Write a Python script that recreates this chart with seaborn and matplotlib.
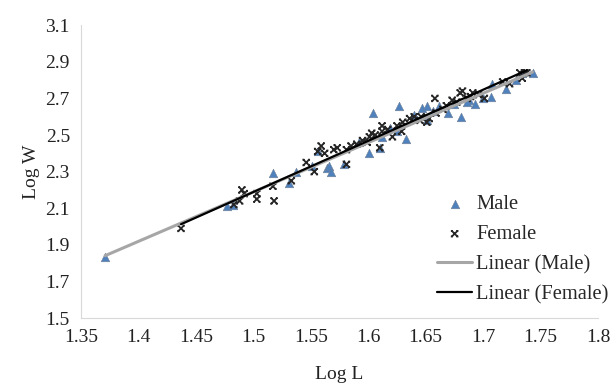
import numpy as np
import pandas as pd
import matplotlib
matplotlib.use("Agg")
import matplotlib.pyplot as plt
from matplotlib.path import Path
import seaborn as sns

# Log L / Log W
male_logl = [1.371, 1.477, 1.482, 1.517, 1.531, 1.537, 1.551, 1.556, 1.564,
             1.566, 1.568, 1.579, 1.601, 1.604, 1.610, 1.612, 1.619, 1.625,
             1.627, 1.633, 1.647, 1.651, 1.651, 1.656, 1.669, 1.675, 1.681,
             1.688, 1.693, 1.700, 1.707, 1.708, 1.720, 1.729, 1.734, 1.743,
             1.592, 1.640, 1.662, 1.686]
male_logw = [1.835, 2.110, 2.120, 2.290, 2.236, 2.300, 2.330, 2.410, 2.320,
             2.330, 2.300, 2.340, 2.400, 2.620, 2.430, 2.490, 2.540, 2.520,
             2.660, 2.480, 2.650, 2.660, 2.580, 2.630, 2.620, 2.670, 2.600,
             2.690, 2.670, 2.700, 2.710, 2.780, 2.750, 2.800, 2.840, 2.840,
             2.460, 2.610, 2.660, 2.680]

female_logl = [1.437, 1.483, 1.488, 1.490, 1.492, 1.503, 1.503, 1.517, 1.518,
               1.533, 1.546, 1.553, 1.556, 1.559, 1.562, 1.573, 1.581, 1.581,
               1.590, 1.595, 1.599, 1.601, 1.603, 1.610, 1.612, 1.612, 1.625,
               1.629, 1.630, 1.636, 1.640, 1.645, 1.646, 1.651, 1.653, 1.658,
               1.659, 1.665, 1.673, 1.680, 1.682, 1.686, 1.691, 1.701, 1.717,
               1.723, 1.732, 1.734, 1.736, 1.738, 1.606, 1.617, 1.621, 1.668,
               1.677, 1.689, 1.696, 1.570, 1.585]
female_logw = [1.990, 2.120, 2.140, 2.200, 2.180, 2.180, 2.150, 2.220, 2.140,
               2.250, 2.350, 2.300, 2.410, 2.440, 2.400, 2.430, 2.420, 2.340,
               2.450, 2.470, 2.460, 2.490, 2.510, 2.430, 2.550, 2.520, 2.550,
               2.520, 2.570, 2.590, 2.600, 2.580, 2.600, 2.570, 2.590, 2.700,
               2.620, 2.640, 2.690, 2.730, 2.740, 2.700, 2.730, 2.700, 2.790,
               2.780, 2.840, 2.810, 2.840, 2.840, 2.500, 2.530, 2.490, 2.660,
               2.680, 2.710, 2.720, 2.420, 2.440]

male = pd.DataFrame({"Log L": male_logl, "Log W": male_logw})
female = pd.DataFrame({"Log L": female_logl, "Log W": female_logw})

sns.set_style("white")
plt.rcParams["font.family"] = ["Liberation Serif", "DejaVu Serif"]

# x marker with small serifs on each tip (Excel style)
xbar = Path([(-1, -1), (1, 1), (-1, 1), (1, -1),
             (-1.35, 1), (-0.65, 1), (0.65, 1), (1.35, 1),
             (-1.35, -1), (-0.65, -1), (0.65, -1), (1.35, -1)],
            [Path.MOVETO, Path.LINETO] * 6)

fig = plt.figure(figsize=(6.14, 3.87), dpi=100)
ax = fig.add_axes([0.1320, 0.178, 0.842, 0.757])

sns.scatterplot(data=male, x="Log L", y="Log W", marker="^", s=38,
                color="#4F81BD", edgecolor="#6f7f95", linewidth=0.4,
                ax=ax, label="Male", zorder=3)
sns.scatterplot(data=female, x="Log L", y="Log W", marker=xbar, s=30,
                facecolor="none", edgecolor="#262626", linewidth=1.3,
                ax=ax, label="Female", zorder=4)
sns.regplot(data=male, x="Log L", y="Log W", scatter=False, ci=None,
            truncate=True, color="#A6A6A6", line_kws={"lw": 2.2, "zorder": 5},
            ax=ax, label="Linear (Male)")
sns.regplot(data=female, x="Log L", y="Log W", scatter=False, ci=None,
            truncate=True, color="black", line_kws={"lw": 1.6, "zorder": 6},
            ax=ax, label="Linear (Female)")

ax.set_xlim(1.35, 1.8)
ax.set_ylim(1.5, 3.1)
ax.set_xticks(np.arange(1.35, 1.801, 0.05))
ax.set_xticklabels(["1.35", "1.4", "1.45", "1.5", "1.55", "1.6", "1.65",
                    "1.7", "1.75", "1.8"])
ax.set_yticks(np.arange(1.5, 3.11, 0.2))
ax.set_yticklabels(["1.5", "1.7", "1.9", "2.1", "2.3", "2.5", "2.7",
                    "2.9", "3.1"])
ax.tick_params(length=0, labelsize=14, colors="#222222", pad=8)
for s in ["top", "right"]:
    ax.spines[s].set_visible(False)
for s in ["left", "bottom"]:
    ax.spines[s].set_color("#D9D9D9")
    ax.spines[s].set_linewidth(0.8)

ax.set_xlabel("Log L", fontsize=14, color="#222222", labelpad=14)
ax.set_ylabel("Log W", fontsize=14, color="#222222", labelpad=4)

ax.legend(loc="upper left", bbox_to_anchor=(0.712, 0.497),
          bbox_transform=fig.transFigure, frameon=False, fontsize=14.8,
          handlelength=1.7, handletextpad=0.2, labelspacing=0.52,
          borderpad=0, borderaxespad=0)

fig.savefig("out.png", dpi=100)
